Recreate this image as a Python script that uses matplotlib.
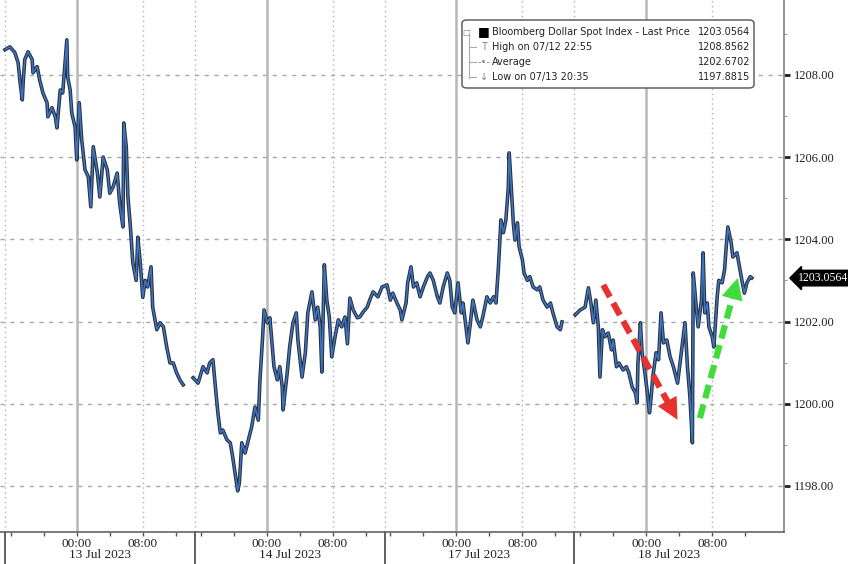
import numpy as np
import matplotlib
matplotlib.use('Agg')
import matplotlib.pyplot as plt
import matplotlib.transforms as mtransforms
from matplotlib.patches import FancyBboxPatch

# Eje x: horas de negociacion comprimidas (cada sesion dura 23 h, empieza a 0, 23, 46, 69)
session_starts = [0, 23, 46, 69]
session_dates = ['13 Jul 2023', '14 Jul 2023', '17 Jul 2023', '18 Jul 2023']
midnight_offset = 8.7  # 00:00 dentro de la sesion
y_ticks = [1198, 1200, 1202, 1204, 1206, 1208]

# Sesion 13 Jul
t_s1 = [0.0, 0.6, 1.2, 1.6, 1.8, 2.1, 2.2, 2.4, 2.8, 3.3, 3.4, 3.9, 4.2, 4.6, 5.1,
        5.2, 5.7, 6.1, 6.3, 6.7, 7.0, 7.5, 7.6, 7.9, 8.1, 8.5, 8.7, 9.0, 9.3, 9.7,
        10.1, 10.4, 10.7, 11.2, 11.5, 11.9, 12.4, 12.7, 13.1, 13.6, 13.9, 14.3, 14.4, 14.7, 14.9,
        15.2, 15.5, 15.9, 16.1, 16.4, 16.7, 17.0, 17.3, 17.7, 17.9, 18.4, 18.8, 19.2, 19.6, 20.0,
        20.4, 20.8, 21.2, 21.6]
v_s1 = [1208.61, 1208.68, 1208.54, 1208.29, 1207.88, 1207.39, 1207.80, 1208.37, 1208.56, 1208.37,
        1208.05, 1208.20, 1207.88, 1207.56, 1207.32, 1206.98, 1207.20, 1206.98, 1206.71, 1207.63,
        1207.56, 1208.85, 1207.95, 1207.63, 1207.07, 1206.73, 1205.93, 1207.32, 1206.42, 1205.69,
        1205.52, 1204.79, 1206.25, 1205.61, 1205.03, 1206.00, 1205.69, 1205.12, 1205.27, 1205.61,
        1204.88, 1204.30, 1206.83, 1206.25, 1205.03, 1204.30, 1203.42, 1203.00, 1204.05, 1203.42,
        1202.59, 1203.00, 1202.84, 1203.33, 1202.35, 1201.80, 1201.97, 1201.87, 1201.38, 1200.99,
        1200.99, 1200.75, 1200.58, 1200.46]

# Sesiones 14 Jul y 17 Jul (sin hueco visible entre ellas)
t_s2 = [22.8, 23.4, 24.0, 24.5, 24.8, 25.2, 25.5, 25.8, 26.1, 26.4, 26.9, 27.3, 27.6, 28.2, 28.4,
        28.7, 29.1, 29.5, 29.9, 30.3, 30.7, 30.9, 31.2, 31.4, 31.8, 32.1, 32.4, 32.6, 33.0, 33.3,
        33.6, 33.7, 34.2, 34.5, 34.9, 35.3, 35.5, 36.0, 36.4, 36.7, 37.2, 37.6, 37.9, 38.2, 38.4,
        38.7, 39.0, 39.3, 39.6, 40.0, 40.4, 40.8, 41.2, 41.5, 41.8, 42.2, 42.7, 43.0, 43.4, 43.9,
        44.2, 44.6,
        45.2, 45.7, 46.3, 46.7, 47.0, 47.5, 47.9, 48.1, 48.6, 48.8, 49.2, 49.5, 49.9, 50.3, 50.7,
        51.2, 51.5, 51.9, 52.4, 52.7, 53.1, 53.6, 53.9, 54.2, 54.5, 54.9, 55.3, 55.5, 55.9, 56.1,
        56.4, 56.7, 57.2, 57.6, 57.9, 58.4, 58.8, 59.2, 59.5, 59.8, 60.1, 60.4, 60.7, 61.0, 61.1,
        61.3, 61.6, 61.8, 62.1, 62.3, 62.7, 62.9, 63.3, 63.6, 64.0, 64.5, 64.8, 65.2, 65.7, 66.1,
        66.4, 66.9, 67.3, 67.5]
v_s2 = [1200.63, 1200.50, 1200.90, 1200.75, 1200.99, 1201.07, 1200.41, 1199.78, 1199.29, 1199.36,
        1199.12, 1199.05, 1198.70, 1197.88, 1198.07, 1199.05, 1198.80, 1199.12, 1199.44, 1199.92,
        1199.60, 1200.58, 1201.55, 1202.28, 1201.97, 1202.09, 1201.38, 1200.90, 1200.58, 1200.90,
        1200.41, 1199.85, 1200.75, 1201.38, 1201.97, 1202.21, 1201.55, 1200.65, 1201.24, 1202.21,
        1202.72, 1202.04, 1202.35, 1201.87, 1200.77, 1203.38, 1202.52, 1202.11, 1201.14, 1201.63,
        1202.04, 1201.87, 1202.11, 1201.46, 1202.57, 1202.28, 1202.09, 1202.11, 1202.23, 1202.35,
        1202.52, 1202.72,
        1202.60, 1202.84, 1202.89, 1202.52, 1202.69, 1202.45, 1202.28, 1202.04, 1202.45, 1202.94,
        1203.33, 1202.84, 1202.94, 1202.60, 1202.84, 1203.09, 1203.18, 1203.00, 1202.60, 1202.45,
        1202.84, 1203.18, 1203.00, 1202.35, 1202.21, 1202.94, 1202.21, 1202.45, 1201.80, 1201.48,
        1201.97, 1202.52, 1202.04, 1201.87, 1202.11, 1202.60, 1202.45, 1202.60, 1202.45, 1203.33,
        1204.47, 1204.16, 1204.47, 1205.28, 1206.10, 1205.44, 1204.40, 1203.98, 1204.40, 1203.82,
        1203.50, 1203.18, 1203.00, 1203.09, 1202.84, 1202.77, 1202.84, 1202.52, 1202.35, 1202.45,
        1202.21, 1201.87, 1201.80, 1201.99]

# Sesion 18 Jul
t_s4 = [69.1, 69.7, 70.3, 70.7, 71.0, 71.3, 71.6, 71.9, 72.1, 72.4, 72.7, 73.1, 73.5, 73.7, 74.1,
        74.4, 74.9, 75.3, 75.6, 76.0, 76.4, 76.6, 76.7, 77.0, 77.2, 77.5, 77.8, 78.1, 78.3, 78.5,
        78.9, 79.2, 79.5, 79.8, 80.2, 80.6, 81.0, 81.5, 81.8, 82.2, 82.4, 82.7, 83.0, 83.3, 83.4,
        83.8, 84.0, 84.4, 84.6, 84.8, 85.1, 85.3, 85.7, 85.9, 86.3, 86.5, 86.9, 87.2, 87.4, 87.6,
        88.0, 88.2, 88.7, 89.0, 89.3, 89.6, 89.9, 90.3, 90.5]
v_s4 = [1202.16, 1202.28, 1202.35, 1202.82, 1202.45, 1201.97, 1202.52, 1201.87, 1200.65, 1201.80,
        1201.63, 1201.72, 1201.31, 1201.55, 1200.90, 1200.99, 1200.82, 1200.90, 1200.75, 1200.41,
        1200.26, 1200.02, 1200.99, 1201.97, 1201.24, 1200.82, 1200.34, 1199.78, 1200.17, 1200.65,
        1201.24, 1201.07, 1202.21, 1201.48, 1201.55, 1201.14, 1200.90, 1200.50, 1200.99, 1201.63,
        1201.97, 1200.90, 1200.17, 1199.05, 1203.18, 1202.28, 1201.87, 1202.52, 1203.67, 1202.21,
        1202.45, 1201.87, 1201.63, 1201.38, 1202.60, 1203.00, 1202.94, 1203.26, 1203.82, 1204.30,
        1203.91, 1203.57, 1203.67, 1203.33, 1203.00, 1202.69, 1202.94, 1203.09, 1203.06]

last_price = 1203.0564
legend_rows = [('Bloomberg Dollar Spot Index - Last Price', '1203.0564'),
               ('High on 07/12 22:55', '1208.8562'),
               ('Average', '1202.6702'),
               ('Low on 07/13 20:35', '1197.8815')]

# Flechas (inicio, punta) en coordenadas de datos
red_arrow = [(72.5, 1202.89), (81.5, 1199.61)]
green_arrow = [(84.2, 1199.65), (88.8, 1203.06)]

# Unimos las sesiones con huecos
t_all = np.concatenate([t_s1, [np.nan], t_s2, [np.nan], t_s4])
v_all = np.concatenate([v_s1, [np.nan], v_s2, [np.nan], v_s4])

fig = plt.figure(figsize=(8.48, 5.64), dpi=100)
ax = fig.add_axes([0, 1 - 532 / 564, 784 / 848, 532 / 564])
ax.set_xlim(-0.6, 94.4)
ax.set_ylim(1196.88, 1209.82)

# Rejilla
for v in y_ticks:
    ax.axhline(v, color='#a8a8a8', lw=1.0, ls=(0, (3, 4)), zorder=1)
for s in session_starts:
    ax.axvline(s + midnight_offset, color='#b8b8b8', lw=1.8, zorder=1)
    ax.axvline(s + midnight_offset + 8, color='#b0b0b0', lw=1.0, ls=(0, (1, 2.5)), zorder=1)
    ax.axvline(s, color='#b0b0b0', lw=1.0, ls=(0, (1, 2.5)), zorder=1)

# Serie de precios
ax.plot(t_all, v_all, color='#27313e', lw=2.6, zorder=3)
ax.plot(t_all, v_all, color='#3f74c0', lw=1.1, zorder=4)

# Flechas discontinuas: cuerpo punteado y punta solida
for (p0, p1), col in [(red_arrow, '#e8322e'), (green_arrow, '#3fdc3a')]:
    x0, y0 = p0
    x1, y1 = p1
    xe = x0 + 0.88 * (x1 - x0)
    ye = y0 + 0.88 * (y1 - y0)
    ax.plot([x0, xe], [y0, ye], color=col, lw=4.5, ls=(0, (2.2, 1.1)),
            solid_capstyle='butt', dash_capstyle='butt', zorder=5)
    ax.annotate('', xy=p1, xytext=p0,
                arrowprops=dict(arrowstyle='-|>,head_width=0.55,head_length=1.1',
                                mutation_scale=14, lw=0, color=col,
                                shrinkA=0, shrinkB=0),
                zorder=5)

# Ejes
ax.spines['top'].set_visible(False)
ax.spines['left'].set_visible(False)
ax.spines['right'].set_color('#8a8a8a')
ax.spines['right'].set_linewidth(1.3)
ax.spines['bottom'].set_color('#666666')
ax.spines['bottom'].set_linewidth(1.2)

ax.yaxis.tick_right()
ax.set_yticks(y_ticks)
ax.set_yticklabels(['%.2f' % v for v in y_ticks])
ax.set_yticks([v + 1 for v in y_ticks[:-1]] + [1209], minor=True)
ax.tick_params(axis='y', which='major', direction='out', length=4, width=2,
               pad=3, labelsize=9, colors='#222222')
ax.tick_params(axis='y', which='minor', direction='out', length=2.5, width=0.8, colors='#999999')
for lab in ax.get_yticklabels():
    lab.set_family('Liberation Serif')

major_x = []
major_lab = []
minor_x = []
for s in session_starts:
    major_x += [s + midnight_offset, s + midnight_offset + 8]
    major_lab += ['00:00', '08:00']
    minor_x += [s + midnight_offset + h for h in (-8, -4, 4, 12)]
ax.set_xticks(major_x)
ax.set_xticklabels(major_lab)
ax.set_xticks(minor_x, minor=True)
ax.tick_params(axis='x', which='both', direction='out', length=3, width=1,
               colors='#555555', labelsize=9.5, pad=1)
for lab in ax.get_xticklabels():
    lab.set_family('Liberation Serif')
    lab.set_color('#222222')

trans = mtransforms.blended_transform_factory(ax.transData, ax.transAxes)
for s, d in zip(session_starts, session_dates):
    ax.text(s + 11.5, -0.043, d, transform=trans, ha='center', va='center',
            fontsize=9.5, family='Liberation Serif', color='#222222')
    ax.plot([s, s], [0, -0.07], transform=trans, clip_on=False, color='#555555', lw=1.3)

# Etiqueta del ultimo precio
trans_y = mtransforms.blended_transform_factory(ax.transAxes, ax.transData)
ax.text(1.018, last_price, '%.4f' % last_price, transform=trans_y, ha='left', va='center',
        fontsize=8.5, family='Liberation Serif', color='white',
        bbox=dict(boxstyle='larrow,pad=0.15', fc='black', ec='black'))

# Leyenda estilo Bloomberg
def fx(px):
    return px / 848

def fy(py):
    return 1 - py / 564

box = FancyBboxPatch((fx(462), fy(88)), fx(754) - fx(462), fy(20) - fy(88),
                     boxstyle='round,pad=0,rounding_size=0.006', transform=fig.transFigure,
                     fc='white', ec='#606060', lw=1.1, zorder=10)
fig.add_artist(box)
fig.add_artist(plt.Line2D([fx(469), fx(469)], [fy(34), fy(78)], transform=fig.transFigure,
                          color='#aaaaaa', lw=0.8, zorder=11))
row_y = [32, 47, 62, 77]
icons = ['■', 'T', '-•-', '↓']
for (label, value), py, icon in zip(legend_rows, row_y, icons):
    if icon != '■':
        fig.add_artist(plt.Line2D([fx(469), fx(476)], [fy(py), fy(py)], transform=fig.transFigure,
                                  color='#aaaaaa', lw=0.8, zorder=11))
    fig.text(fx(484), fy(py), icon, ha='center', va='center', fontsize=9 if icon == '■' else 7,
             color='black' if icon == '■' else '#888888', zorder=12)
    fig.text(fx(492), fy(py), label, ha='left', va='center', fontsize=7,
             color='#222222', zorder=12)
    fig.text(fx(750), fy(py), value, ha='right', va='center', fontsize=7,
             color='#222222', zorder=12)
fig.text(fx(466), fy(32), '□', ha='center', va='center', fontsize=6, color='#888888', zorder=12)

fig.savefig('out.png', dpi=100)
